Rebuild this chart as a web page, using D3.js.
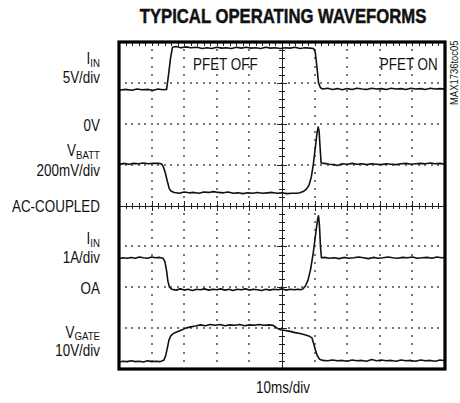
<!DOCTYPE html>
<html><head><meta charset="utf-8">
<script src="https://cdn.jsdelivr.net/npm/d3@7"></script>
<style>
body{margin:0;background:#fff;}
svg{display:block;}
text{font-family:"Liberation Sans",Arial,sans-serif;fill:#111;}
</style></head>
<body>
<svg id="chart" width="460" height="403"></svg>
<script>
// Time in divisions (10 ms/div), level in divisions from the bottom of the screen
const xDivisions = 10;
const yDivisions = 8;
const chartTitle = "TYPICAL OPERATING WAVEFORMS";
const xAxisLabel = "10ms/div";

const iinTrace = [[0,6.82],[0.2,6.84],[0.4,6.82],[0.55,6.85],[0.7,6.83],[0.9,6.84],[1.05,6.82],[1.2,6.85],[1.35,6.83],[1.46,6.84],[1.52,7.2],[1.58,7.6],[1.64,7.87],[1.75,7.89],[1.9,7.86],[2.05,7.88],[2.2,7.86],[2.4,7.87],[2.55,7.84],[2.7,7.86],[2.85,7.84],[3.0,7.87],[3.15,7.85],[3.3,7.86],[3.45,7.84],[3.6,7.87],[3.75,7.85],[3.9,7.87],[4.05,7.85],[4.2,7.86],[4.35,7.84],[4.5,7.87],[4.65,7.85],[4.8,7.86],[4.95,7.84],[5.1,7.86],[5.25,7.85],[5.4,7.87],[5.55,7.84],[5.7,7.86],[5.85,7.85],[5.97,7.84],[6.02,7.75],[6.07,7.4],[6.12,7.0],[6.18,6.88],[6.25,6.85],[6.4,6.87],[6.55,6.84],[6.7,6.86],[6.85,6.83],[7.0,6.86],[7.15,6.84],[7.3,6.87],[7.45,6.85],[7.6,6.84],[7.75,6.87],[7.9,6.85],[8.05,6.86],[8.2,6.84],[8.35,6.87],[8.5,6.85],[8.65,6.86],[8.8,6.84],[8.95,6.87],[9.1,6.85],[9.25,6.86],[9.4,6.84],[9.55,6.87],[9.7,6.85],[9.85,6.86],[10,6.85]];

const vbattTrace = [[0,5.0],[0.15,5.03],[0.3,5.01],[0.45,5.03],[0.6,5.02],[0.75,5.04],[0.9,5.02],[1.05,5.03],[1.2,5.03],[1.3,5.02],[1.36,4.95],[1.42,4.8],[1.48,4.6],[1.54,4.42],[1.6,4.35],[1.7,4.32],[1.85,4.3],[2.0,4.33],[2.15,4.31],[2.3,4.32],[2.45,4.3],[2.6,4.33],[2.75,4.32],[2.9,4.34],[3.05,4.32],[3.2,4.31],[3.35,4.33],[3.5,4.3],[3.65,4.31],[3.8,4.29],[3.95,4.31],[4.1,4.3],[4.25,4.32],[4.4,4.3],[4.55,4.31],[4.7,4.32],[4.85,4.3],[5.0,4.31],[5.15,4.29],[5.3,4.3],[5.45,4.3],[5.55,4.31],[5.65,4.34],[5.75,4.4],[5.83,4.5],[5.9,4.7],[5.96,5.0],[6.02,5.4],[6.07,5.75],[6.11,5.92],[6.14,5.8],[6.17,5.4],[6.2,5.04],[6.3,5.03],[6.45,5.01],[6.6,5.0],[6.7,4.98],[6.85,5.02],[7.0,5.01],[7.15,5.03],[7.3,5.01],[7.45,5.02],[7.6,5.0],[7.75,5.02],[7.9,5.01],[8.05,5.0],[8.2,5.02],[8.35,5.01],[8.5,5.0],[8.65,5.02],[8.8,5.03],[8.95,5.01],[9.1,5.02],[9.25,5.03],[9.4,5.02],[9.55,5.04],[9.7,5.02],[9.85,5.03],[10,5.01]];

const iin2Trace = [[0,2.7],[0.12,2.72],[0.25,2.71],[0.38,2.73],[0.5,2.71],[0.62,2.74],[0.75,2.72],[0.88,2.71],[1.0,2.74],[1.12,2.72],[1.25,2.73],[1.35,2.71],[1.41,2.62],[1.46,2.4],[1.5,2.15],[1.55,2.0],[1.62,1.95],[1.75,1.93],[1.88,1.96],[2.0,1.93],[2.12,1.95],[2.25,1.92],[2.38,1.95],[2.5,1.94],[2.62,1.96],[2.75,1.93],[2.88,1.95],[3.0,1.94],[3.12,1.96],[3.25,1.93],[3.38,1.95],[3.5,1.92],[3.62,1.95],[3.75,1.94],[3.88,1.96],[4.0,1.93],[4.12,1.95],[4.25,1.94],[4.38,1.92],[4.5,1.95],[4.62,1.93],[4.75,1.95],[4.88,1.94],[5.0,1.96],[5.12,1.93],[5.25,1.95],[5.38,1.94],[5.5,1.95],[5.58,1.94],[5.64,1.96],[5.72,2.03],[5.8,2.18],[5.88,2.45],[5.96,2.85],[6.04,3.35],[6.09,3.65],[6.12,3.75],[6.15,3.5],[6.18,3.0],[6.21,2.72],[6.3,2.73],[6.45,2.71],[6.6,2.72],[6.75,2.7],[6.9,2.73],[7.05,2.71],[7.2,2.72],[7.35,2.74],[7.5,2.72],[7.65,2.7],[7.8,2.73],[7.95,2.71],[8.1,2.72],[8.25,2.74],[8.4,2.72],[8.55,2.71],[8.7,2.73],[8.85,2.72],[9.0,2.74],[9.15,2.71],[9.3,2.72],[9.45,2.73],[9.6,2.71],[9.75,2.74],[9.9,2.72],[10,2.73]];

const vgateTrace = [[0,0.17],[0.12,0.19],[0.25,0.18],[0.38,0.2],[0.5,0.18],[0.62,0.19],[0.75,0.17],[0.88,0.2],[1.0,0.18],[1.12,0.19],[1.25,0.18],[1.33,0.2],[1.38,0.22],[1.43,0.32],[1.48,0.5],[1.53,0.7],[1.58,0.8],[1.65,0.86],[1.75,0.9],[1.9,0.95],[2.05,1.0],[2.2,1.03],[2.35,1.05],[2.5,1.08],[2.65,1.06],[2.8,1.09],[2.95,1.07],[3.1,1.09],[3.25,1.06],[3.4,1.08],[3.55,1.07],[3.7,1.09],[3.85,1.06],[4.0,1.08],[4.15,1.07],[4.3,1.09],[4.45,1.07],[4.6,1.08],[4.72,1.07],[4.85,1.0],[4.95,0.96],[5.1,0.94],[5.25,0.92],[5.4,0.89],[5.55,0.87],[5.7,0.84],[5.82,0.81],[5.92,0.76],[5.98,0.6],[6.03,0.45],[6.08,0.33],[6.15,0.24],[6.25,0.21],[6.4,0.2],[6.55,0.22],[6.7,0.2],[6.85,0.21],[7.0,0.19],[7.15,0.22],[7.3,0.2],[7.45,0.21],[7.6,0.19],[7.75,0.23],[7.9,0.2],[8.05,0.22],[8.2,0.2],[8.35,0.21],[8.5,0.19],[8.65,0.22],[8.8,0.2],[8.95,0.21],[9.1,0.19],[9.25,0.22],[9.4,0.2],[9.55,0.21],[9.7,0.19],[9.85,0.22],[10,0.2]];

const traces = [iinTrace, vbattTrace, iin2Trace, vgateTrace];

// Left side labels: [main, subscript, baseline y in divisions from bottom]
const leftLabels = [
  ["I","IN",7.46],["5V/div","",7.0],["0V","",5.82],["V","BATT",5.2],["200mV/div","",4.73],
  ["AC-COUPLED","",3.85],["I","IN",3.05],["1A/div","",2.59],["OA","",1.84],["V","GATE",0.77],["10V/div","",0.32]
];
const insideLabels = [["PFET OFF",2.27,7.32],["PFET ON",8.0,7.32]];
const partNumber = "MAX1736toc05";

const svg = d3.select("#chart");
const x = d3.scaleLinear().domain([0,xDivisions]).range([119,445]);
const y = d3.scaleLinear().domain([0,yDivisions]).range([369,42]);
const NARROW = 0.84;

// Title (bold, condensed by horizontal scaling)
svg.append("g").attr("transform","translate(283,23) scale(0.795,1)")
  .append("text").attr("x",0).attr("y",0).attr("text-anchor","middle")
  .attr("font-size",21).attr("font-weight","bold")
  .attr("stroke","#111").attr("stroke-width",0.5)
  .text(chartTitle);

const g = svg.append("g").attr("shape-rendering","crispEdges");
const fine = d3.range(0, xDivisions*5+1).map(i=>i/5);
const fineY = d3.range(0, yDivisions*5+1).map(i=>i/5);
const rx = d=>Math.round(x(d));
const ry = d=>Math.round(y(d));
const hRows = d3.range(1, yDivisions).filter(k=>k!==4);
const vCols = d3.range(1, xDivisions).filter(k=>k!==5);
// dotted graticule rows
hRows.forEach(k=>{
  g.append("g").selectAll("rect").data(fine.slice(1,-1)).join("rect")
    .attr("x",d=>rx(d)-1).attr("y",ry(k)-1).attr("width",2).attr("height",2).attr("fill","#777");
});
vCols.forEach(k=>{
  g.append("g").selectAll("rect").data(fineY.slice(1,-1)).join("rect")
    .attr("x",rx(k)-1).attr("y",d=>ry(d)-1).attr("width",2).attr("height",2).attr("fill","#777");
});
// center cross with ticks
g.append("rect").attr("x",x(0)).attr("width",x(10)-x(0)).attr("y",ry(4)-0.5).attr("height",1.2).attr("fill","#222");
g.append("rect").attr("y",y(8)).attr("height",y(0)-y(8)).attr("x",rx(5)-0.5).attr("width",1.2).attr("fill","#222");
g.append("g").selectAll("rect").data(fine).join("rect")
  .attr("x",d=>rx(d)).attr("width",1)
  .attr("y",(d,i)=>ry(4)-(i%5===0?5:3)).attr("height",(d,i)=>(i%5===0?10:6))
  .attr("fill","#222");
g.append("g").selectAll("rect").data(fineY).join("rect")
  .attr("y",d=>ry(d)).attr("height",1)
  .attr("x",(d,i)=>rx(5)-(i%5===0?5:3)).attr("width",(d,i)=>(i%5===0?10:6))
  .attr("fill","#222");
// top border ticks
g.append("g").selectAll("rect").data(fine).join("rect")
  .attr("x",d=>rx(d)).attr("width",1).attr("y",y(8)).attr("height",4)
  .attr("fill","#222");

// traces
const line = d3.line().x(d=>x(d[0])).y(d=>y(d[1]));
svg.append("g").selectAll("path").data(traces).join("path")
  .attr("d",line).attr("fill","none").attr("stroke","#111").attr("stroke-width",1.6)
  .attr("stroke-linejoin","round");

// frame
svg.append("rect").attr("x",x(0)).attr("y",y(8)).attr("width",x(10)-x(0)).attr("height",y(0)-y(8))
  .attr("fill","none").attr("stroke","#000").attr("stroke-width",3.2);

function narrowText(px, py, anchor, size){
  return svg.append("g").attr("transform",`translate(${px},${py}) scale(${NARROW},1)`)
    .append("text").attr("x",0).attr("y",0).attr("text-anchor",anchor).attr("font-size",size);
}
// left labels
leftLabels.forEach(([main,sub,v])=>{
  const t = narrowText(100, y(v), "end", 16);
  t.append("tspan").text(main);
  if (sub) t.append("tspan").attr("font-size",11.5).attr("dy",2.5).text(sub);
});
insideLabels.forEach(([s,xv,yv])=>{
  narrowText(x(xv), y(yv), "start", 16).text(s);
});
narrowText(283, 393, "middle", 16).text(xAxisLabel);
svg.append("g").attr("transform","translate(458,105) rotate(-90) scale(0.9,1)")
  .append("text").attr("font-size",10.5).text(partNumber);
</script>
</body></html>
